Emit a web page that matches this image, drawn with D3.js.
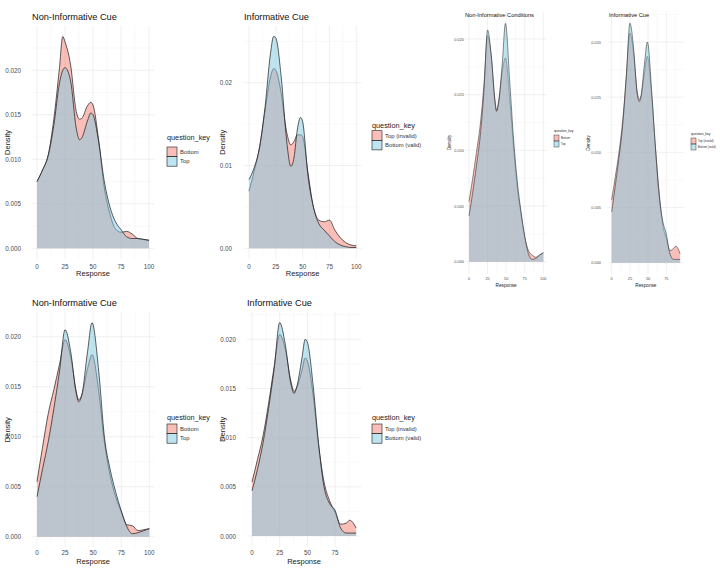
<!DOCTYPE html>
<html>
<head>
<meta charset="utf-8">
<script src="https://cdn.jsdelivr.net/npm/d3@7"></script>
<style>
  body { margin: 0; background: #fff; }
  svg { display: block; font-family: "Liberation Sans", Arial, sans-serif; }
</style>
</head>
<body>
<div id="vis"></div>
<script>
// values, density per response value

// panel 1: Non-Informative Cue (top)
const p1X = [0,5,10,15,20,23,25,30,35,38,40,45,48,50,55,60,65,70,75,80,85,90,95,100];
const p1Bottom = [0.0075,0.0088,0.0105,0.0145,0.0202,0.0238,0.0232,0.0206,0.0154,0.0145,0.0146,0.0160,0.0164,0.0161,0.0122,0.0069,0.0039,0.0022,0.0018,0.0019,0.0016,0.0011,0.0010,0.0009];
const p1Top    = [0.0075,0.0088,0.0104,0.0138,0.0185,0.0200,0.0203,0.0188,0.0135,0.0122,0.0124,0.0143,0.0152,0.0150,0.0120,0.0076,0.0047,0.0030,0.0021,0.0013,0.0011,0.0011,0.0010,0.0009];

// panel 2: Informative Cue (top)
const p2X = [0,5,10,15,20,23,25,30,35,39,42,45,48,50,55,60,65,70,75,80,85,90,95,100];
const p2TopInvalid   = [0.0069,0.0094,0.0123,0.0167,0.0207,0.0217,0.0215,0.0187,0.0141,0.0125,0.0129,0.0137,0.0137,0.0135,0.0091,0.0050,0.0034,0.0032,0.0034,0.0022,0.0013,0.0007,0.0004,0.0003];
const p2BottomValid  = [0.0083,0.0098,0.0123,0.0171,0.0235,0.0256,0.0254,0.0207,0.0131,0.0099,0.0110,0.0143,0.0158,0.0153,0.0087,0.0050,0.0030,0.0022,0.0015,0.0008,0.0004,0.0002,0.0001,0.0001];

// panel 3: Non-Informative Conditions (small)
const p3X = [0,5,10,15,20,25,30,35,37,40,45,49,55,60,65,70,75,80,85,90,95,100];
const p3Bottom = [0.0054,0.0075,0.0098,0.0122,0.0158,0.0203,0.0184,0.0145,0.0136,0.0145,0.0172,0.0183,0.0145,0.0103,0.0067,0.0043,0.0022,0.0010,0.0006,0.0004,0.0006,0.0008];
const p3Top    = [0.0041,0.0062,0.0086,0.0112,0.0152,0.0208,0.0185,0.0143,0.0135,0.0143,0.0180,0.0214,0.0160,0.0110,0.0072,0.0045,0.0023,0.0007,0.0002,0.0003,0.0006,0.0008];

// panel 4: Informative Cue (small)
const p4X = [0,5,10,15,20,25,30,35,38,40,45,49,55,60,65,70,75,80,85,88,90,94];
const p4TopInvalid  = [0.0057,0.0078,0.0100,0.0128,0.0168,0.0208,0.0190,0.0155,0.0148,0.0150,0.0172,0.0187,0.0150,0.0105,0.0065,0.0035,0.0022,0.0011,0.0013,0.0015,0.0014,0.0008];
const p4BottomValid = [0.0046,0.0070,0.0095,0.0124,0.0168,0.0217,0.0195,0.0153,0.0146,0.0150,0.0180,0.0200,0.0155,0.0105,0.0062,0.0038,0.0026,0.0008,0.0003,0.0003,0.0003,0.0003];

// panel 5: Non-Informative Cue (bottom)
const p5X = [0,5,10,15,20,25,30,35,37,40,45,49,55,60,65,70,75,80,85,90,95,100];
const p5Bottom = [0.0055,0.0090,0.0123,0.0147,0.0172,0.0197,0.0180,0.0145,0.0137,0.0142,0.0168,0.0182,0.0145,0.0095,0.0062,0.0040,0.0025,0.0012,0.0011,0.0006,0.0007,0.0008];
const p5Top    = [0.0040,0.0068,0.0095,0.0128,0.0165,0.0207,0.0185,0.0143,0.0135,0.0142,0.0185,0.0214,0.0165,0.0100,0.0068,0.0045,0.0026,0.0010,0.0003,0.0004,0.0006,0.0008];

// panel 6: Informative Cue (bottom)
const p6X = [0,5,10,15,20,25,30,35,38,40,45,48,50,55,60,65,70,75,80,85,88,90,94];
const p6TopInvalid  = [0.0055,0.0078,0.0102,0.0135,0.0172,0.0205,0.0190,0.0158,0.0147,0.0150,0.0168,0.0181,0.0178,0.0145,0.0093,0.0055,0.0036,0.0024,0.0012,0.0013,0.0016,0.0015,0.0008];
const p6BottomValid = [0.0046,0.0068,0.0095,0.0130,0.0170,0.0217,0.0195,0.0155,0.0145,0.0150,0.0180,0.0200,0.0197,0.0155,0.0095,0.0050,0.0033,0.0026,0.0008,0.0003,0.0003,0.0003,0.0003];

const xTicks = [0, 25, 50, 75, 100];
const yTicksFine = [0, 0.005, 0.01, 0.015, 0.02, 0.025];
const yTicksCoarse = [0, 0.01, 0.02];
const labelsNonInf = ["Bottom", "Top"];
const labelsInf = ["Top (invalid)", "Bottom (valid)"];

const RED = "rgb(245,125,115)";
const BLUE = "rgb(125,201,225)";

const big = {title: 9.2, axis: 7.5, tick: 6.3, legTitle: 7.3, legText: 5.9, key: [10, 9.6]};
const small = {title: 5.7, axis: 4.7, tick: 3.9, legTitle: 3.3, legText: 2.9, key: [5, 6]};

const panels = [
  {title: "Non-Informative Cue", x: p1X, ys: [p1Bottom, p1Top], labels: labelsNonInf, yTicks: yTicksFine, fmt: ".3f",
   xr: [37, 149], yr: [248.3, 70.3], f: big, titleXY: [32, 17], tickRight: 21, xTickY: 266, xLabY: 273.5, yLabX: 7,
   leg: [167, 137, 147, 180]},
  {title: "Informative Cue", x: p2X, ys: [p2TopInvalid, p2BottomValid], labels: labelsInf, yTicks: yTicksCoarse, fmt: ".2f",
   xr: [249, 356.3], yr: [248.3, 82.7], f: big, titleXY: [244, 17], tickRight: 232, xTickY: 266, xLabY: 273.5, yLabX: 222,
   leg: [372, 125, 130.7, 385]},
  {title: "Non-Informative Conditions", x: p3X, ys: [p3Bottom, p3Top], labels: labelsNonInf, yTicks: yTicksFine, fmt: ".3f",
   xr: [469, 543.3], yr: [261.7, 39], f: small, titleXY: [465, 15], tickRight: 464, xTickY: 278, xLabY: 285, yLabX: 449,
   leg: [554, 131, 135, 561], clipRight: 580},
  {title: "Informative Cue", x: p4X, ys: [p4TopInvalid, p4BottomValid], labels: labelsInf, yTicks: yTicksFine, fmt: ".3f",
   xr: [611.7, 684.5], yr: [262.7, 42], f: small, titleXY: [609, 15], tickRight: 601, xTickY: 278, xLabY: 285, yLabX: 588,
   leg: [691, 134, 138, 698]},
  {title: "Non-Informative Cue", x: p5X, ys: [p5Bottom, p5Top], labels: labelsNonInf, yTicks: yTicksFine, fmt: ".3f",
   xr: [37, 149.3], yr: [536.7, 336.7], f: big, titleXY: [32, 303], tickRight: 21, xTickY: 552, xLabY: 561.5, yLabX: 7,
   leg: [167, 417, 424, 180]},
  {title: "Informative Cue", x: p6X, ys: [p6TopInvalid, p6BottomValid], labels: labelsInf, yTicks: yTicksFine, fmt: ".3f",
   xr: [252, 362.8], yr: [536, 339.3], f: big, titleXY: [247, 303], tickRight: 236, xTickY: 552, xLabY: 561.5, yLabX: 222,
   leg: [372, 417, 424, 385]}
];

const svg = d3.select("#vis").append("svg")
  .attr("width", 727)
  .attr("height", 569);
svg.append("rect").attr("width", 727).attr("height", 569).attr("fill", "#fff");

function drawPanel(p, i) {
  var g = svg.append("g");
  if (p.clipRight) {
    svg.append("clipPath").attr("id", "clip" + i)
      .append("rect").attr("x", 0).attr("y", 0).attr("width", p.clipRight).attr("height", 569);
    g.attr("clip-path", "url(#clip" + i + ")");
  }
  var x = d3.scaleLinear().domain([0, 100]).range(p.xr);
  var y = d3.scaleLinear().domain([0, 0.02]).range(p.yr);
  var xMax = d3.max(p.x);
  var yMax = d3.max(p.ys.map(s => d3.max(s)));
  var xLo = -0.05 * xMax, xHi = 1.05 * xMax;
  var yLo = -0.05 * yMax, yHi = 1.05 * yMax;

  // grid, minor then major
  var xMinor = [12.5, 37.5, 62.5, 87.5].filter(v => v <= xHi);
  var step = p.yTicks[1] - p.yTicks[0];
  var yMinor = p.yTicks.map(v => v + step / 2).filter(v => v <= yHi);
  g.selectAll(null).data(xMinor).enter().append("line")
    .attr("x1", d => x(d)).attr("x2", d => x(d)).attr("y1", y(yLo)).attr("y2", y(yHi))
    .attr("stroke", "#f3f3f3").attr("stroke-width", 0.5);
  g.selectAll(null).data(yMinor).enter().append("line")
    .attr("x1", x(xLo)).attr("x2", x(xHi)).attr("y1", d => y(d)).attr("y2", d => y(d))
    .attr("stroke", "#f3f3f3").attr("stroke-width", 0.5);
  var xMajor = xTicks.filter(v => v <= xHi);
  var yMajor = p.yTicks.filter(v => v <= yHi);
  g.selectAll(null).data(xMajor).enter().append("line")
    .attr("x1", d => x(d)).attr("x2", d => x(d)).attr("y1", y(yLo)).attr("y2", y(yHi))
    .attr("stroke", "#e9e9e9").attr("stroke-width", 0.7);
  g.selectAll(null).data(yMajor).enter().append("line")
    .attr("x1", x(xLo)).attr("x2", x(xHi)).attr("y1", d => y(d)).attr("y2", d => y(d))
    .attr("stroke", "#e9e9e9").attr("stroke-width", 0.7);

  // densities
  var colors = [RED, BLUE];
  p.ys.forEach(function(vals, k) {
    var pts = p.x.map((v, j) => [v, vals[j]]);
    var area = d3.area().x(d => x(d[0])).y0(y(0)).y1(d => y(d[1])).curve(d3.curveMonotoneX);
    var line = d3.line().x(d => x(d[0])).y(d => y(d[1])).curve(d3.curveMonotoneX);
    g.append("path").attr("d", area(pts)).attr("fill", colors[k]).attr("fill-opacity", 0.5);
    g.append("path").attr("d", line(pts)).attr("fill", "none").attr("stroke", "#1a1a1a")
      .attr("stroke-width", p.f === big ? 0.7 : 0.5);
  });

  // tick labels
  var fmt = d3.format(p.fmt);
  g.selectAll(null).data(yMajor).enter().append("text")
    .attr("x", p.tickRight).attr("y", d => y(d)).attr("text-anchor", "end")
    .attr("dominant-baseline", "central").attr("font-size", p.f.tick).attr("fill", "#4d4d4d")
    .text(d => fmt(d));
  g.selectAll(null).data(xMajor).enter().append("text")
    .attr("x", d => x(d)).attr("y", p.xTickY).attr("text-anchor", "middle")
    .attr("dominant-baseline", "central").attr("font-size", p.f.tick).attr("fill", "#4d4d4d")
    .text(d => d);

  // axis titles and title
  g.append("text").attr("x", (x(xLo) + x(xHi)) / 2).attr("y", p.xLabY)
    .attr("text-anchor", "middle").attr("dominant-baseline", "central")
    .attr("font-size", p.f.axis).attr("fill", "#222").text("Response");
  var cy = (y(yLo) + y(yHi)) / 2;
  g.append("text").attr("transform", `translate(${p.yLabX},${cy}) rotate(-90)`)
    .attr("text-anchor", "middle").attr("dominant-baseline", "central")
    .attr("font-size", p.f.axis).attr("fill", "#222").text("Density");
  g.append("text").attr("x", p.titleXY[0]).attr("y", p.titleXY[1])
    .attr("dominant-baseline", "central").attr("font-size", p.f.title).attr("fill", "#111")
    .text(p.title);

  // legend
  var lg = p.leg;
  g.append("text").attr("x", lg[0]).attr("y", lg[1]).attr("dominant-baseline", "central")
    .attr("font-size", p.f.legTitle).attr("fill", "#222").text("question_key");
  var kw = p.f.key[0], kh = p.f.key[1];
  p.labels.forEach(function(lab, k) {
    g.append("rect").attr("x", lg[0]).attr("y", lg[2] + k * kh).attr("width", kw).attr("height", kh)
      .attr("fill", colors[k]).attr("fill-opacity", 0.5)
      .attr("stroke", "#1a1a1a").attr("stroke-width", p.f === big ? 0.6 : 0.4);
    g.append("text").attr("x", lg[3]).attr("y", lg[2] + k * kh + kh / 2)
      .attr("dominant-baseline", "central").attr("font-size", p.f.legText).attr("fill", "#333")
      .text(lab);
  });
}

panels.forEach(drawPanel);
</script>
</body>
</html>
